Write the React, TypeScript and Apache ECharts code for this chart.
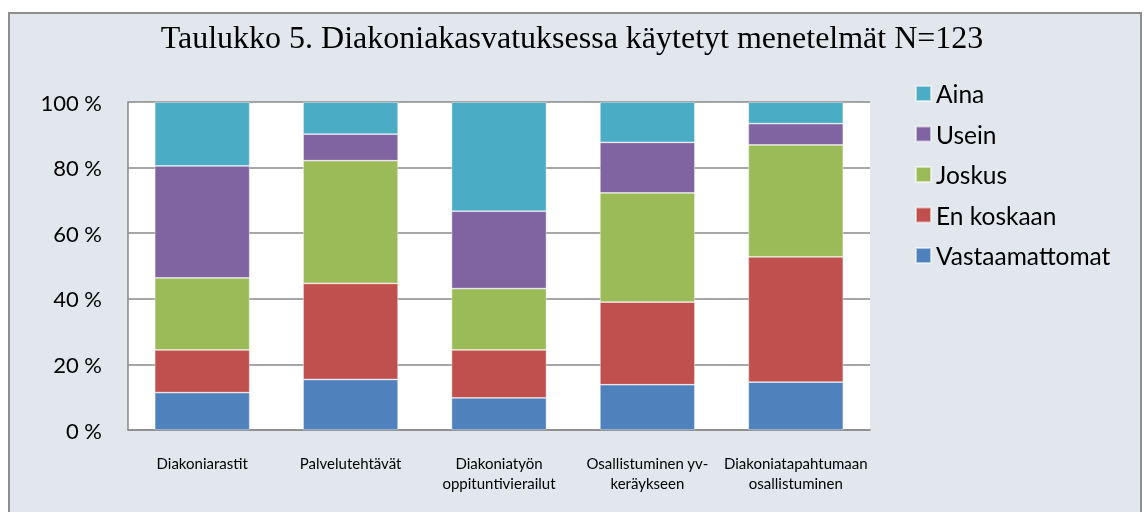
import React, { useEffect, useRef } from "react";
import * as echarts from "echarts";

const title = "Taulukko 5. Diakoniakasvatuksessa käytetyt menetelmät N=123";
const categories = [
  "Diakoniarastit",
  "Palvelutehtävät",
  "Diakoniatyön\noppituntivierailut",
  "Osallistuminen yv-\nkeräykseen",
  "Diakoniatapahtumaan\nosallistuminen",
];
const vastaamattomat = [11.4, 15.4, 9.8, 13.8, 14.6];
const enKoskaan = [13.0, 29.3, 14.6, 25.2, 38.2];
const joskus = [22.0, 37.4, 18.7, 33.3, 34.1];
const usein = [34.1, 8.1, 23.6, 15.4, 6.5];
const aina = [19.5, 9.8, 33.3, 12.3, 6.6];
const legendOrder = ["Aina", "Usein", "Joskus", "En koskaan", "Vastaamattomat"];

const seriesDefs = [
  { name: "Vastaamattomat", data: vastaamattomat, color: "#4F81BD" },
  { name: "En koskaan", data: enKoskaan, color: "#C0504D" },
  { name: "Joskus", data: joskus, color: "#9BBB59" },
  { name: "Usein", data: usein, color: "#8064A2" },
  { name: "Aina", data: aina, color: "#4BACC6" },
];

export default function App() {
  const ref = useRef<HTMLDivElement>(null);
  useEffect(() => {
    if (!ref.current) return;
    const chart = echarts.init(ref.current, null, { renderer: "svg" });
    chart.setOption({
      animation: false,
      graphic: [
        {
          type: "rect",
          z: -10,
          silent: true,
          shape: { x: 9, y: 13, width: 1132, height: 510 },
          style: { fill: "#E1E7EC", stroke: "#8E8E8E", lineWidth: 2 },
        },
      ],
      title: {
        text: title,
        left: "center",
        top: 16,
        textStyle: {
          fontFamily: '"Liberation Serif", "Times New Roman", serif',
          fontWeight: "normal",
          fontSize: 32,
          color: "#000",
        },
      },
      legend: {
        data: legendOrder,
        orient: "vertical",
        left: 915,
        top: 81,
        padding: 0,
        itemWidth: 15,
        itemHeight: 15,
        itemGap: 15.5,
        icon: "rect",
        textStyle: {
          fontFamily: "Lato, sans-serif",
          fontSize: 24.5,
          color: "#000",
          lineHeight: 24,
        },
      },
      grid: {
        left: 128,
        right: 274,
        top: 102,
        bottom: 82,
        show: true,
        backgroundColor: "#fff",
        borderWidth: 0,
      },
      xAxis: {
        type: "category",
        data: categories,
        axisLine: { show: true, lineStyle: { color: "#8A8A8A", width: 1.5 } },
        axisTick: { show: false },
        axisLabel: {
          margin: 23,
          fontFamily: "Lato, sans-serif",
          fontSize: 15,
          lineHeight: 20,
          color: "#000",
          interval: 0,
        },
      },
      yAxis: {
        type: "value",
        min: 0,
        max: 100,
        interval: 20,
        axisLine: { show: true, lineStyle: { color: "#8A8A8A", width: 1.5 } },
        axisTick: { show: false },
        splitLine: { show: true, lineStyle: { color: "#8A8A8A", width: 1.5 } },
        axisLabel: {
          formatter: "{value} %",
          margin: 26,
          fontFamily: "Lato, sans-serif",
          fontSize: 22,
          color: "#000",
        },
      },
      series: seriesDefs.map((s) => ({
        name: s.name,
        type: "bar",
        stack: "total",
        barWidth: 95,
        data: s.data,
        itemStyle: {
          color: s.color,
          borderColor: "rgba(255,255,255,0.55)",
          borderWidth: 0.75,
        },
      })),
    });
    return () => chart.dispose();
  }, []);
  return (
    <div
      ref={ref}
      style={{ position: "fixed", left: 0, top: 0, width: 1144, height: 512 }}
    />
  );
}
